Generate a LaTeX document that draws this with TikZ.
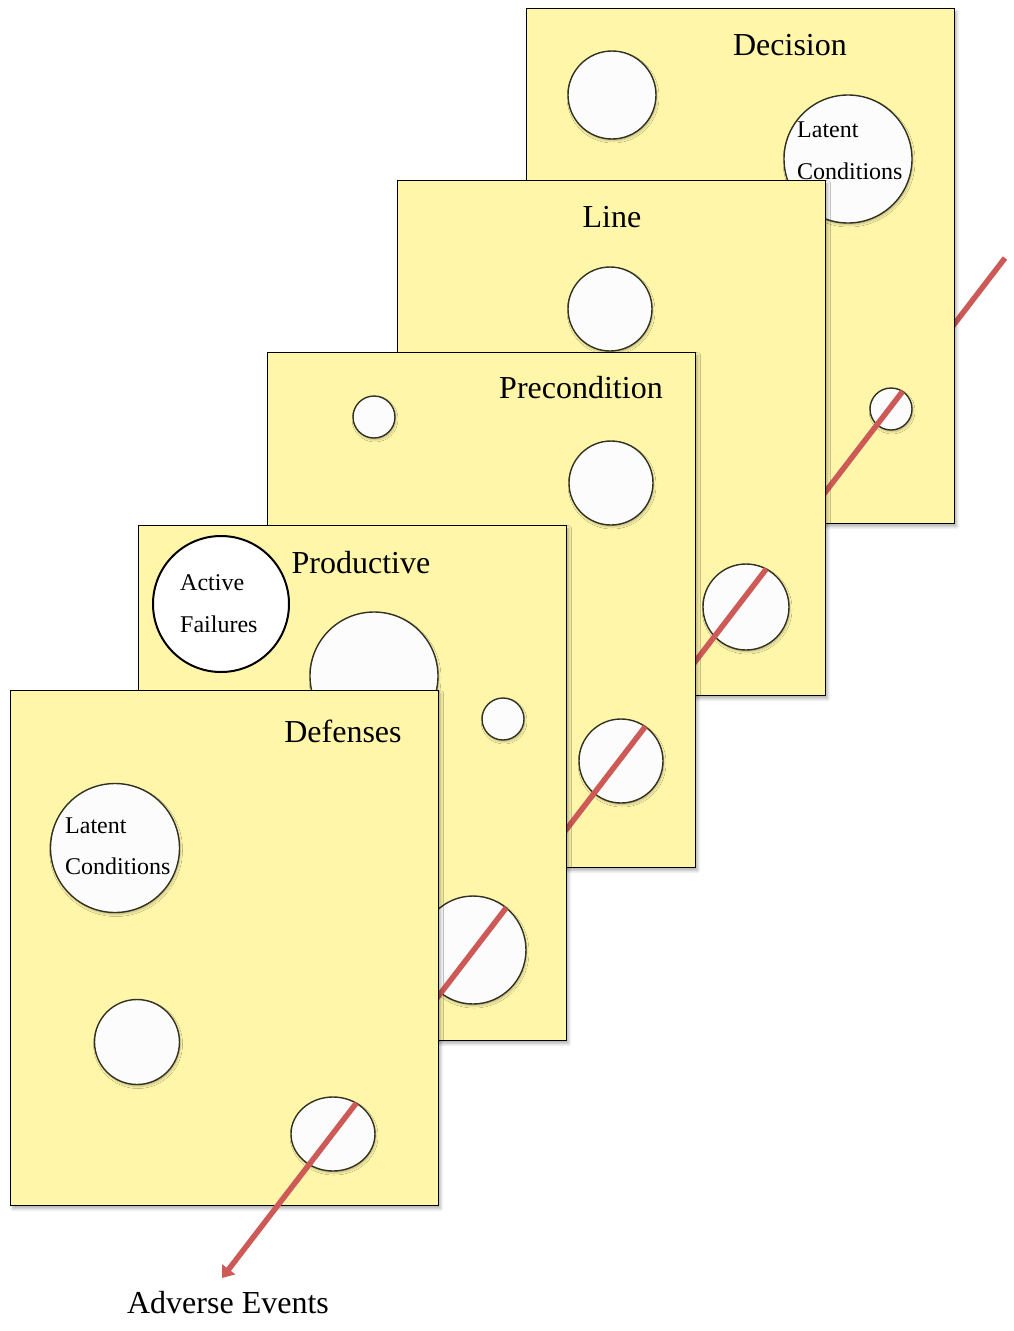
\documentclass[tikz,border=0pt]{standalone}
\usepackage{fontspec}
\setmainfont{Liberation Serif}
\usetikzlibrary{arrows.meta,calc,shadows.blur,shapes.geometric}

\definecolor{cheese}{RGB}{255,246,170}
\definecolor{holefill}{RGB}{252,252,253}
\definecolor{holeline}{RGB}{50,50,34}
\definecolor{hazard}{RGB}{205,90,86}

\begin{document}
\begin{tikzpicture}[x=1pt,y=-1pt,
  slice/.style={draw=black, line width=1.4pt, fill=cheese, inner sep=0pt,
    minimum width=428, minimum height=515, anchor=north west,
    blur shadow={shadow xshift=2pt, shadow yshift=-3pt,
      shadow blur radius=3pt, shadow opacity=30}},
  hole/.style={circle, draw=holeline, line width=1.4pt, fill=holefill,
    inner sep=0pt, minimum size=#1,
    blur shadow={shadow xshift=1pt, shadow yshift=-2pt,
      shadow blur radius=2pt, shadow opacity=25}},
  oval/.style n args={2}{ellipse, draw=holeline, line width=1.4pt,
    fill=holefill, inner sep=0pt, minimum width=#1, minimum height=#2,
    blur shadow={shadow xshift=1pt, shadow yshift=-2pt,
      shadow blur radius=2pt, shadow opacity=25}},
  title/.style={anchor=base, inner sep=0pt,
    font=\fontsize{32}{38}\selectfont},
  note/.style={anchor=base west, inner sep=0pt,
    font=\fontsize{24}{28}\selectfont},
  ray/.style={draw=hazard, line width=5.5pt},
]
\useasboundingbox (0,0) rectangle (1013,1331);

% path of the hazard through the slices
\coordinate (A) at (1005,258);
\coordinate (B) at (222,1278);
\coordinate (e1) at ($(A)!0.1308!(B)$);
\coordinate (e2) at ($(A)!0.3049!(B)$);
\coordinate (e3) at ($(A)!0.4594!(B)$);
\coordinate (e4) at ($(A)!0.6371!(B)$);
\coordinate (e5) at ($(A)!0.8285!(B)$);

\draw[ray] (A) -- (e1);

% Decision slice
\node[slice] (decision) at (526,8) {};
\node[title] (decisionT) at (790,55) {Decision};
\node[hole=88] (d1) at (612,95) {};
\node[hole=128] (d2) at (848,159) {};
\node[note] (d2a) at (797,137) {Latent};
\node[note] (d2b) at (797,179) {Conditions};
\node[hole=42] (d3) at (891,409) {};
\draw[ray] (e1) -- (e2);

% Line slice
\node[slice] (line) at (397,180) {};
\node[title] (lineT) at (612,227) {Line};
\node[hole=84] (l1) at (610,309) {};
\node[hole=86] (l2) at (746,607) {};
\draw[ray] (e2) -- (e3);

% Precondition slice
\node[slice] (precond) at (267,352) {};
\node[title] (precondT) at (581,398) {Precondition};
\node[hole=42] (p1) at (374,417) {};
\node[hole=84] (p2) at (611,483) {};
\node[hole=84] (p3) at (621,761) {};
\draw[ray] (e3) -- (e4);

% Productive slice
\node[slice] (product) at (138,525) {};
\node[title] (productT) at (361,573) {Productive};
\node[circle, draw=black, line width=2pt, fill=white, inner sep=0pt,
  minimum size=136] (active) at (221,604) {};
\node[note] (activeA) at (180,590) {Active};
\node[note] (activeB) at (180,632) {Failures};
\node[hole=128] (q1) at (374,676) {};
\node[hole=42] (q2) at (503,719) {};
\node[oval={106}{108}] (q3) at (473,950) {};
\draw[ray] (e4) -- (e5);

% Defenses slice
\node[slice] (defense) at (10,690) {};
\node[title] (defenseT) at (343,742) {Defenses};
\node[hole=129] (f1) at (115,848) {};
\node[note] (f1a) at (65,833) {Latent};
\node[note] (f1b) at (65,874) {Conditions};
\node[hole=85] (f2) at (137,1042) {};
\node[oval={84}{74}] (f3) at (333,1134) {};
\draw[ray, -{Triangle[length=11pt,width=16pt]}] (e5) -- (B);

% outcome
\node[title] (outcome) at (228,1313) {Adverse Events};
\end{tikzpicture}
\end{document}
